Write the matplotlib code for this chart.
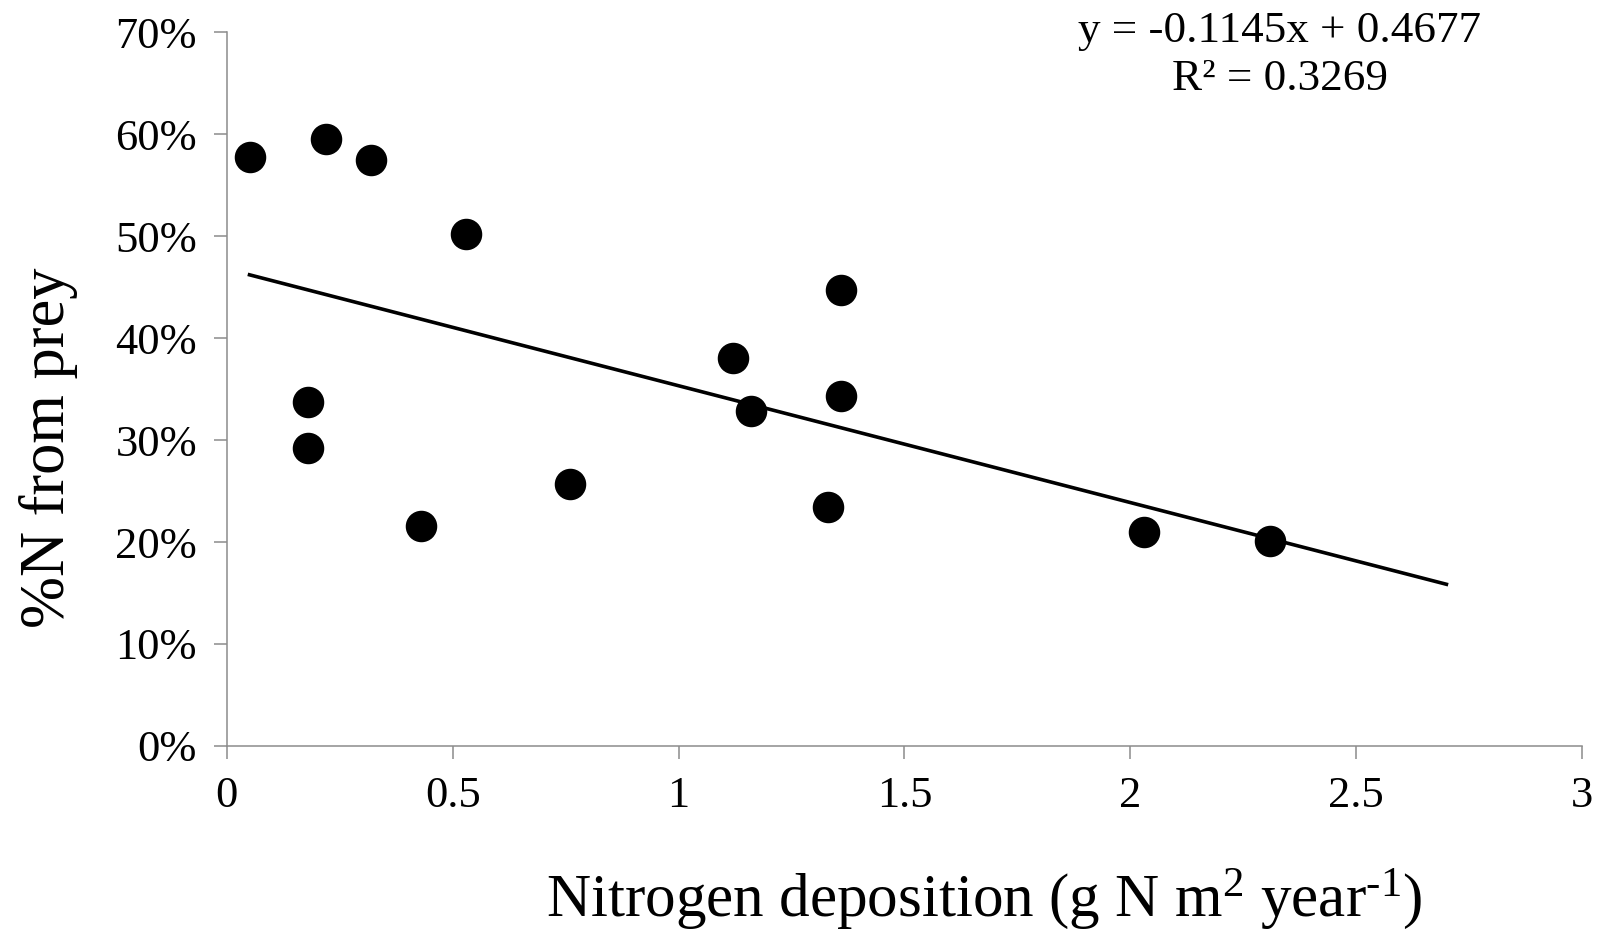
import numpy as np
import matplotlib
matplotlib.use("Agg")
import matplotlib.pyplot as plt
from matplotlib.ticker import PercentFormatter

plt.rcParams['font.family'] = ['Liberation Serif', 'DejaVu Serif']
plt.rcParams['mathtext.fontset'] = 'custom'
plt.rcParams['mathtext.rm'] = 'Liberation Serif'
plt.rcParams['mathtext.it'] = 'Liberation Serif:italic'

# data
n_dep = [0.05, 0.22, 0.32, 0.53, 0.18, 0.18, 0.43, 0.76,
         1.12, 1.16, 1.36, 1.36, 1.33, 2.03, 2.31]
pct_prey = [0.577, 0.595, 0.575, 0.502, 0.337, 0.292, 0.216, 0.257,
            0.380, 0.328, 0.447, 0.343, 0.234, 0.210, 0.201]

slope = -0.1145
intercept = 0.4677
r2 = 0.3269
trend_x = [0.05, 2.7]

fig = plt.figure(figsize=(16.06, 9.34), dpi=100)
ax = fig.add_axes([0.1413, 0.2013, 0.8437, 0.7644])

ax.scatter(n_dep, pct_prey, s=470, color='black', zorder=3)
tx = np.array(trend_x)
ax.plot(tx, slope * tx + intercept, color='black', lw=2.6, zorder=2)

ax.set_xlim(0, 3)
ax.set_ylim(0, 0.7)
ax.set_xticks(np.arange(0, 3.01, 0.5))
ax.set_xticklabels(['0', '0.5', '1', '1.5', '2', '2.5', '3'])
ax.set_yticks(np.arange(0, 0.71, 0.1))
ax.yaxis.set_major_formatter(PercentFormatter(1.0, decimals=0))

for s in ['top', 'right']:
    ax.spines[s].set_visible(False)
for s in ['left', 'bottom']:
    ax.spines[s].set_color('#8c8c8c')
    ax.spines[s].set_linewidth(1.1)
ax.tick_params(axis='both', direction='out', length=9.5, width=1.1,
               color='#8c8c8c', labelsize=32)
ax.tick_params(axis='x', pad=12)
ax.tick_params(axis='y', pad=12)

# hyphen (U+2010) in the exponent, like the original, not a minus
ax.set_xlabel('Nitrogen deposition (g N m$^{2}$ year$^{\u20101}$)', fontsize=44)
ax.xaxis.set_label_coords(0.5586, -0.17)
ax.set_ylabel('%N from prey', fontsize=45)
ax.yaxis.set_label_coords(-0.11, 0.4175)

ax.text(0.797, 0.988, 'y = -0.1145x + 0.4677\nR\u00b2 = 0.3269', transform=fig.transFigure,
        ha='center', va='top', fontsize=32.5, linespacing=1.25)

fig.savefig('out.png', dpi=100)
